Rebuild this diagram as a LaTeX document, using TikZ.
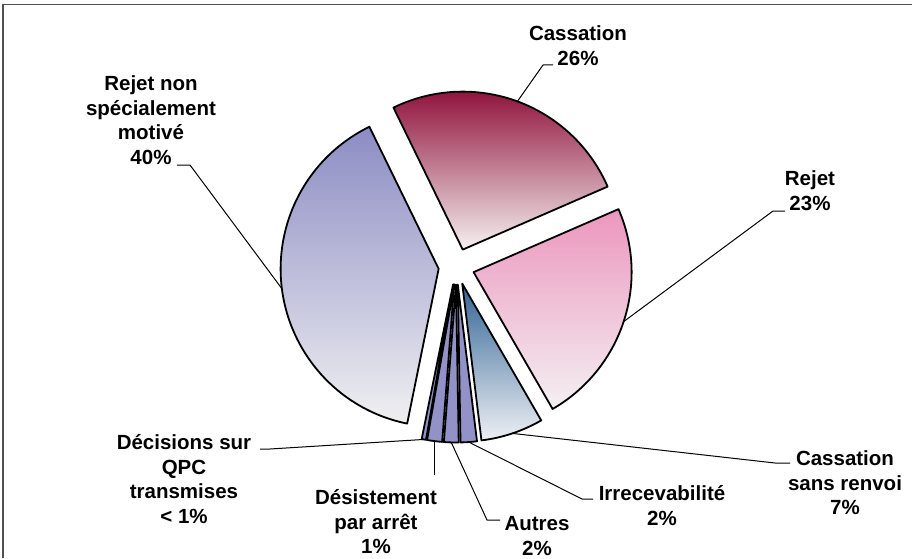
\documentclass[tikz,border=0pt]{standalone}
\usepackage{fontspec}
\setmainfont{Liberation Sans}
\usepackage{tikz}
\usetikzlibrary{calc}

\definecolor{framegray}{RGB}{80,80,84}
\definecolor{cassred}{RGB}{140,8,52}
\definecolor{casslight}{RGB}{245,241,241}
\definecolor{rejetpink}{RGB}{236,150,190}
\definecolor{rejetlight}{RGB}{244,240,242}
\definecolor{csrblue}{RGB}{50,100,150}
\definecolor{csrlight}{RGB}{238,240,244}
\definecolor{rnsmblue}{RGB}{140,140,196}
\definecolor{rnsmlight}{RGB}{240,240,242}
\definecolor{smallviolet}{RGB}{146,146,200}

\begin{document}
\begin{tikzpicture}[x=1pt,y=1pt,line join=round,
    slice/.style={draw=black,line width=1.8pt},
    lead/.style={draw=black,line width=1pt},
    lbl/.style={font=\bfseries\fontsize{20.5}{24.7}\selectfont,align=center,inner sep=0pt,anchor=north}] % Pie Slices
  \useasboundingbox (0,0) rectangle (912,558);
  \draw[line width=1.5pt,draw=framegray] (912,553.3) -- (3,553.3) -- (3,0);
  \coordinate (c) at (456.5,291.5);
  % exploded slices, clockwise from the top
  \shadedraw[slice,top color=cassred,bottom color=casslight] ($(c)+(69.75:18)$) -- +(116:158) arc[start angle=116,end angle=23.5,radius=158] -- cycle;
  \shadedraw[slice,top color=rejetpink,bottom color=rejetlight] ($(c)+(-18.25:18)$) -- +(23.5:158) arc[start angle=23.5,end angle=-60,radius=158] -- cycle;
  \shadedraw[slice,top color=csrblue,bottom color=csrlight] ($(c)+(-71.5:18)$) -- +(-60:158) arc[start angle=-60,end angle=-83,radius=158] -- cycle;
  \filldraw[slice,fill=smallviolet] ($(c)+(-86:18)$) -- +(-83:158) arc[start angle=-83,end angle=-89,radius=158] -- cycle;
  \filldraw[slice,fill=smallviolet] ($(c)+(-91.7:18)$) -- +(-89:158) arc[start angle=-89,end angle=-94.4,radius=158] -- cycle;
  \filldraw[slice,fill=smallviolet] ($(c)+(-97.15:18)$) -- +(-94.4:158) arc[start angle=-94.4,end angle=-99.9,radius=158] -- cycle;
  \filldraw[slice,fill=smallviolet] ($(c)+(-100.7:18)$) -- +(-99.9:158) arc[start angle=-99.9,end angle=-101.5,radius=158] -- cycle;
  \shadedraw[slice,top color=rnsmblue,bottom color=rnsmlight] ($(c)+(-172.75:18)$) -- +(-101.5:158) arc[start angle=-101.5,end angle=-244,radius=158] -- cycle;
  % arc middles
  \coordinate (cass-m) at ($(c)+(69.75:176)$);
  \coordinate (rejet-m) at ($(c)+(-18.25:176)$);
  \coordinate (csr-m) at ($(c)+(-71.5:176)$);
  \coordinate (irrec-m) at ($(c)+(-86:176)$);
  \coordinate (autres-m) at ($(c)+(-91.7:176)$);
  \coordinate (desist-m) at ($(c)+(-97.15:176)$);
  \coordinate (qpc-m) at ($(c)+(-100.7:176)$);
  \coordinate (rnsm-m) at ($(c)+(-172.75:176)$);
  % labels
  \node[lbl] (cass) at (578,535) {\strut Cassation\\26\%};
  \node[lbl] (rejet) at (810,390) {\strut Rejet\\23\%};
  \node[lbl] (rnsm) at (151,485) {\strut Rejet non\\spécialement\\motivé\\40\%};
  \node[lbl] (qpc) at (184,126) {\strut Décisions sur\\QPC\\transmises\\< 1\%};
  \node[lbl] (desist) at (376,71) {\strut Désistement\\par arrêt\\1\%};
  \node[lbl] (autres) at (537,45) {\strut Autres\\2\%};
  \node[lbl] (irrec) at (662,75) {\strut Irrecevabilité\\2\%};
  \node[lbl] (csr) at (845,110) {\strut Cassation\\sans renvoi\\7\%};
  % leader lines
  \coordinate (cass-l) at (553,493);
  \coordinate (rejet-l) at (785,347);
  \coordinate (rnsm-l) at (177,393);
  \coordinate (qpc-l) at (260,109);
  \coordinate (desist-l) at ($(desist-m)+(0,-34)$);
  \coordinate (autres-l) at (500,38);
  \coordinate (irrec-l) at (593,59);
  \coordinate (csr-l) at (790,95);
  \draw[lead] (cass-l) -- ++(-10,0) -- (cass-m);
  \draw[lead] (rejet-l) -- ++(-12,0) -- (rejet-m);
  \draw[lead] (rnsm-l) -- ++(13,0) -- (rnsm-m);
  \draw[lead] (qpc-l) -- ++(10,0) -- (qpc-m);
  \draw[lead] (desist-l) -- (desist-m);
  \draw[lead] (autres-l) -- ++(-13,0) -- (autres-m);
  \draw[lead] (irrec-l) -- ++(-11,0) -- (irrec-m);
  \draw[lead] (csr-l) -- ++(-15,0) -- (csr-m);
\end{tikzpicture}
\end{document}
